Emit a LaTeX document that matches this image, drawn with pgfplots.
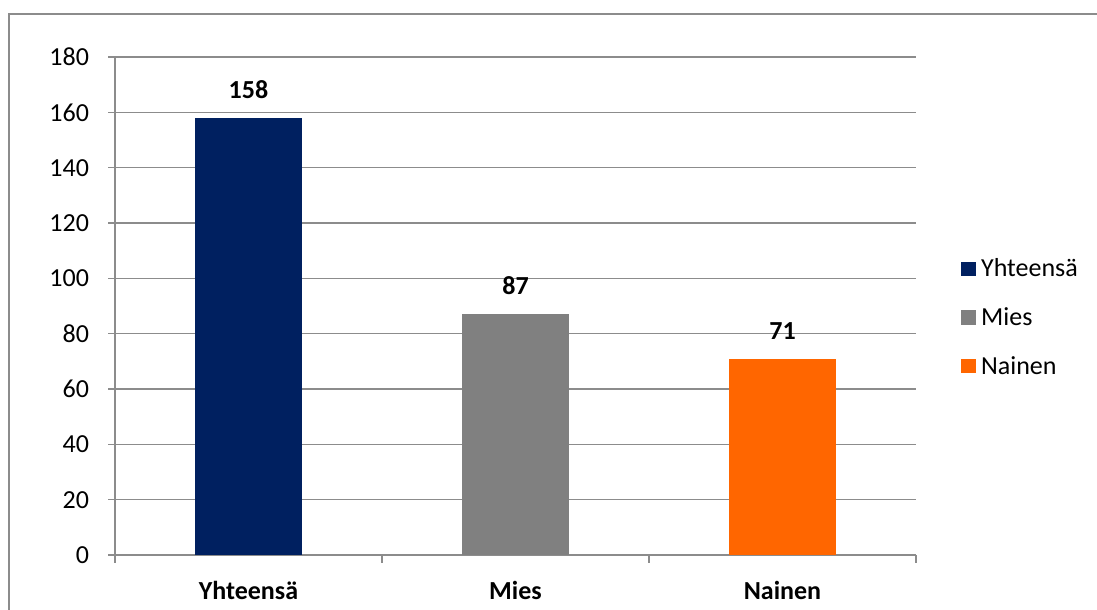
\documentclass[border=0pt]{standalone}
\usepackage{pgfplots}
\pgfplotsset{compat=1.18}
\usepackage{fontspec}
\setmainfont{Carlito}
\definecolor{cnavy}{HTML}{002060}
\definecolor{cgray}{HTML}{808080}
\definecolor{corange}{HTML}{FF6600}
\definecolor{cline}{HTML}{8C8C8C}
\begin{document}
\begin{tikzpicture}[x=0.75pt,y=0.75pt]
\useasboundingbox (0,0) rectangle (1097,610);
\draw[cline,line width=1.5pt] (9,-10) -- (9,596) -- (1100,596);
\begin{axis}[
  at={(86.25pt,41.25pt)}, anchor=origin,
  scale only axis, width=600.75pt, height=373.5pt,
  xmin=0.5, xmax=3.5, ymin=0, ymax=180,
  ybar, bar width=80.25pt,
  ytick={0,20,...,180},
  xtick={1,2,3},
  xticklabels={\textbf{Yhteensä},\textbf{Mies},\textbf{Nainen}},
  major x tick style={draw=none},
  minor xtick={0.5,1.5,2.5,3.5},
  minor tick length=6pt,
  major tick length=5pt,
  tick align=outside,
  y tick style={cline, line width=0.9pt},
  minor x tick style={cline, line width=0.9pt},
  ymajorgrids, grid style={cline, line width=0.9pt},
  axis x line*=bottom, axis y line*=left,
  axis line style={cline, line width=0.9pt, -},
  ticklabel style={font=\fontsize{19.5}{22}\selectfont},
  xticklabel style={yshift=-11pt},
  yticklabel style={xshift=-11pt},
  /pgf/number format/assume math mode=true,
  nodes near coords,
  nodes near coords style={font=\fontsize{19.5}{22}\selectfont\bfseries, yshift=11pt},
  legend style={at={(1.056,0.477)}, anchor=west, draw=none, font=\fontsize{19.5}{22}\selectfont, row sep=17.5pt, inner sep=0pt,
    nodes={inner xsep=4pt}},
  legend cell align=left,
  legend image code/.code={\fill[#1] (0pt,-5.5pt) rectangle (11pt,5.5pt);},
]
\addplot[fill=cnavy, draw=none, bar shift=0pt] coordinates {(1,158)};
\addplot[fill=cgray, draw=none, bar shift=0pt] coordinates {(2,87)};
\addplot[fill=corange, draw=none, bar shift=0pt] coordinates {(3,71)};
\legend{Yhteensä,Mies,Nainen}
\end{axis}
\end{tikzpicture}
\end{document}
